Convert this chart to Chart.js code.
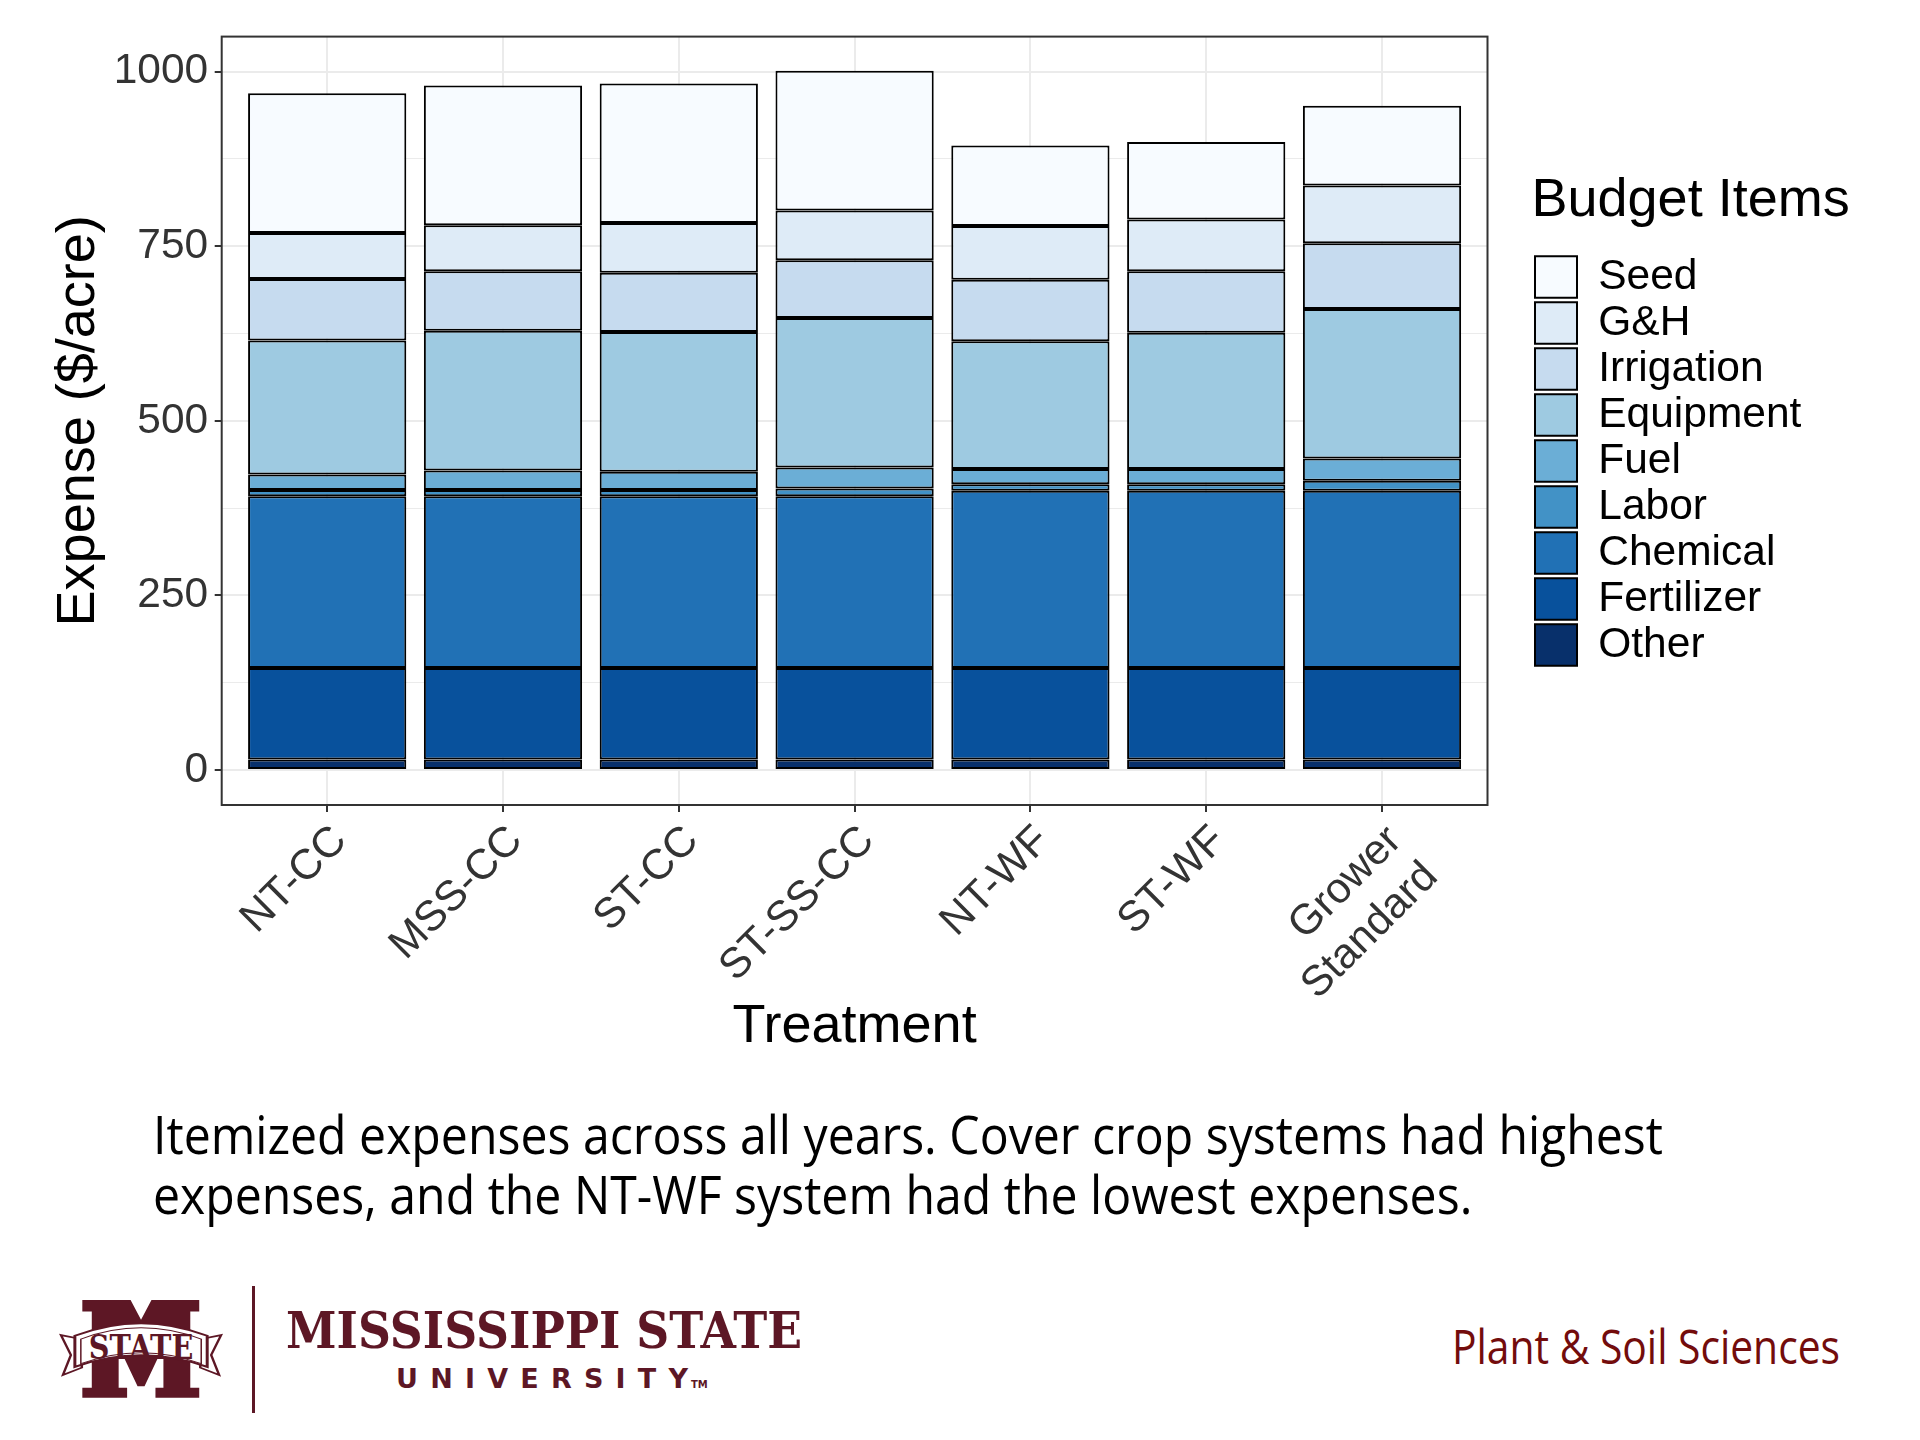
<!DOCTYPE html>
<html>
<head>
<meta charset="utf-8">
<script src="https://cdn.jsdelivr.net/npm/chart.js@4.4.1/dist/chart.umd.min.js"></script>
<style>
  html, body { margin: 0; padding: 0; background: #fff; }
  body { width: 1920px; height: 1440px; position: relative; overflow: hidden; }
  #chartBox { position: absolute; left: 0; top: 0; width: 1920px; height: 1060px; }
  .txt { position: absolute; white-space: nowrap; transform-origin: 0 0; }
  .caption { font-family: 'Open Sans', sans-serif; font-size: 53px; color: #000; }
  .dept { font-family: 'Open Sans', sans-serif; font-size: 48px; color: #730c0c; }
  .msu { font-family: 'DejaVu Serif', serif; font-weight: bold; font-stretch: condensed; font-size: 51px; color: #5d1725; }
  .univ { font-family: 'DejaVu Sans', sans-serif; font-weight: bold; font-size: 27px; color: #5d1725; }
  .tm { font-family: 'DejaVu Sans', sans-serif; font-weight: bold; font-size: 10px; color: #5d1725; }
  #rule { position: absolute; left: 252px; top: 1286px; width: 2.5px; height: 127px; background: #5d1725; }
  #emblem { position: absolute; left: 50px; top: 1280px; width: 780px; height: 150px; }
</style>
</head>
<body>
<div id="chartBox"><canvas id="chart" width="1920" height="1060"></canvas></div>

<div id="cap1" class="txt caption">Itemized expenses across all years. Cover crop systems had highest</div>
<div id="cap2" class="txt caption">expenses, and the NT-WF system had the lowest expenses.</div>

<svg id="emblem" viewBox="0 0 1568 452" preserveAspectRatio="none">
  <polygon fill="#5d1725" points="65,60 162,60 183,120 204,60 300,60 300,95 282,95 282,325 300,325 300,355 212,355 212,325 228,325 228,200 190,320 176,320 138,200 138,325 155,325 155,355 65,355 65,325 84,325 84,95 65,95"/>
  <polygon fill="#fff" stroke="#5d1725" stroke-width="5" points="62,178 22,166 42,226 26,286 64,264"/>
  <polygon fill="#fff" stroke="#5d1725" stroke-width="5" points="304,178 344,166 324,226 340,286 302,264"/>
  <path d="M 50 168 Q 183 92 316 168 L 316 262 Q 183 192 50 262 Z" fill="#fff" stroke="#5d1725" stroke-width="6"/>
  <path d="M 62 178 Q 183 110 304 178 L 304 252 Q 183 186 62 252 Z" fill="none" stroke="#5d1725" stroke-width="3"/>
  <text x="78" y="238" textLength="210" lengthAdjust="spacingAndGlyphs" font-family="DejaVu Serif" font-weight="bold" font-size="100" fill="#5d1725">STATE</text>
</svg>
<div id="rule"></div>
<div id="msu" class="txt msu">MISSISSIPPI STATE</div>
<div id="univ" class="txt univ">UNIVERSITY</div>
<div id="tm" class="txt tm">TM</div>
<div id="dept" class="txt dept">Plant &amp; Soil Sciences</div>

<script>
// categorias y valores (de abajo hacia arriba en cada barra)
const categories = ['NT-CC', 'MSS-CC', 'ST-CC', 'ST-SS-CC', 'NT-WF', 'ST-WF', ['Grower', 'Standard']];
const itemNames = ['Other', 'Fertilizer', 'Chemical', 'Labor', 'Fuel', 'Equipment', 'Irrigation', 'G&H', 'Seed'];
const itemColors = ['#08306b', '#08519c', '#2171b5', '#4292c6', '#6baed6', '#9ecae1', '#c6dbef', '#deebf7', '#f7fbff'];

const other      = [15, 15, 15, 15, 15, 15, 15];
const fertilizer = [131, 131, 131, 131, 131, 131, 131];
const chemical   = [246, 246, 246, 246, 254, 254, 254];
const labor      = [9, 9, 9, 11, 9, 9, 14];
const fuel       = [22, 28, 26, 30, 22, 22, 32];
const equipment  = [192, 200, 200, 214, 183, 195, 214];
const irrigation = [88, 85, 85, 83, 88, 88, 94];
const gh         = [66, 66, 71, 71, 77, 74, 83];
const seed       = [200, 200, 200, 200, 115, 111, 114];

const yTicks = [0, 125, 250, 375, 500, 625, 750, 875, 1000];

const series = [other, fertilizer, chemical, labor, fuel, equipment, irrigation, gh, seed];

Chart.defaults.font.family = "'Liberation Sans', Arial, sans-serif";

// 1. Borde del panel (estilo ggplot)
const panelBorder = {
    id: 'panelBorder',
    afterDatasetsDraw(chart) {
        const a = chart.chartArea;
        const ctx = chart.ctx;
        ctx.save();
        ctx.strokeStyle = '#333333';
        ctx.lineWidth = 2;
        ctx.strokeRect(a.left, a.top, a.right - a.left, a.bottom - a.top);
        ctx.restore();
    }
};

// 2. Leyenda con ancho fijo y corrida a la derecha
const legendPlace = {
    id: 'legendPlace',
    beforeInit(chart) {
        const fit = chart.legend.fit;
        chart.legend.fit = function () {
            fit.bind(chart.legend)();
            this.width = 432.5;
        };
    },
    afterLayout(chart) {
        const lg = chart.legend;
        const dx = 1531.5 - lg.left;
        lg.left += dx;
        lg.right += dx;
    }
};

const datasets = itemNames.map((name, k) => ({
    label: name,
    data: series[k].map((v, i) => ({ x: i + 1, y: v })),
    backgroundColor: itemColors[k],
    borderColor: '#000000',
    borderWidth: 2,
    borderSkipped: false,
    categoryPercentage: 1,
    barPercentage: 0.9
}));

new Chart(document.getElementById('chart'), {
    type: 'bar',
    data: { datasets: datasets },
    plugins: [panelBorder, legendPlace],
    options: {
        responsive: false,
        devicePixelRatio: 1,
        animation: false,
        layout: { padding: { top: 36.6, left: 0, right: 0, bottom: 0 } },
        plugins: {
            tooltip: { enabled: false },
            legend: {
                position: 'right',
                fullSize: false,
                reverse: true,
                title: {
                    display: true,
                    text: 'Budget Items',
                    color: '#000000',
                    position: 'start',
                    font: { size: 54 },
                    padding: { top: 2, bottom: 13.5 }
                },
                labels: {
                    color: '#000000',
                    font: { size: 42.5 },
                    boxWidth: 42,
                    boxHeight: 41.5,
                    padding: 3.5
                }
            }
        },
        scales: {
            x: {
                type: 'linear',
                stacked: true,
                min: 0.4,
                max: 7.6,
                offset: false,
                afterBuildTicks: axis => { axis.ticks = categories.map((c, i) => ({ value: i + 1 })); },
                afterFit: axis => { axis.height = 255; },
                grid: {
                    offset: false,
                    color: '#ebebeb',
                    lineWidth: 2,
                    tickColor: '#333333',
                    tickWidth: 2,
                    tickLength: 7
                },
                border: { display: false },
                ticks: {
                    autoSkip: false,
                    minRotation: 45,
                    maxRotation: 45,
                    padding: 4,
                    labelOffset: 13,
                    color: '#333333',
                    font: { size: 42.5 },
                    callback: v => categories[Math.round(v) - 1]
                },
                title: {
                    display: true,
                    text: 'Treatment',
                    color: '#000000',
                    font: { size: 54 },
                    padding: { top: 0, bottom: 0.5 }
                }
            },
            y: {
                stacked: true,
                min: -50,
                max: 1050,
                afterBuildTicks: axis => { axis.ticks = yTicks.map(v => ({ value: v })); },
                afterFit: axis => { axis.width = 221.7; },
                grid: {
                    color: '#ebebeb',
                    lineWidth: c => (c.tick && c.tick.value % 250 === 0) ? 2 : 1,
                    tickColor: c => (c.tick && c.tick.value % 250 === 0) ? '#333333' : 'rgba(0,0,0,0)',
                    tickWidth: 2,
                    tickLength: 7
                },
                border: { display: false },
                ticks: {
                    padding: 6.5,
                    color: '#333333',
                    font: { size: 42.5 },
                    callback: v => (v % 250 === 0) ? String(v) : ''
                },
                title: {
                    display: true,
                    text: 'Expense ($/acre)',
                    color: '#000000',
                    font: { size: 54 },
                    padding: { top: 47, bottom: 0 }
                }
            }
        }
    }
});

// 3. Textos de la diapositiva (ubicados por linea base)
function place(el, left, baseline, width) {
    el.style.left = left + 'px';
    el.style.top = '0px';
    const probe = document.createElement('span');
    probe.style.cssText = 'display:inline-block;width:0;height:0;vertical-align:baseline;';
    el.appendChild(probe);
    const off = probe.offsetTop;
    probe.remove();
    el.style.top = (baseline - off) + 'px';
    let s = 1;
    if (width) {
        s = width / el.getBoundingClientRect().width;
        el.style.transform = 'scaleX(' + s + ')';
    }
    return s;
}

const cap1 = document.getElementById('cap1');
const cap2 = document.getElementById('cap2');
const s = place(cap1, 153, 1153.5, 1510);
place(cap2, 153, 1213.5);
cap2.style.transform = 'scaleX(' + s + ')';

place(document.getElementById('msu'), 286, 1348, 516);

const univ = document.getElementById('univ');
const w0 = univ.getBoundingClientRect().width;
univ.style.letterSpacing = ((292 - w0) / 9) + 'px';
place(univ, 396, 1388);
place(document.getElementById('tm'), 691, 1388);

place(document.getElementById('dept'), 1452, 1364, 388);
</script>
</body>
</html>
